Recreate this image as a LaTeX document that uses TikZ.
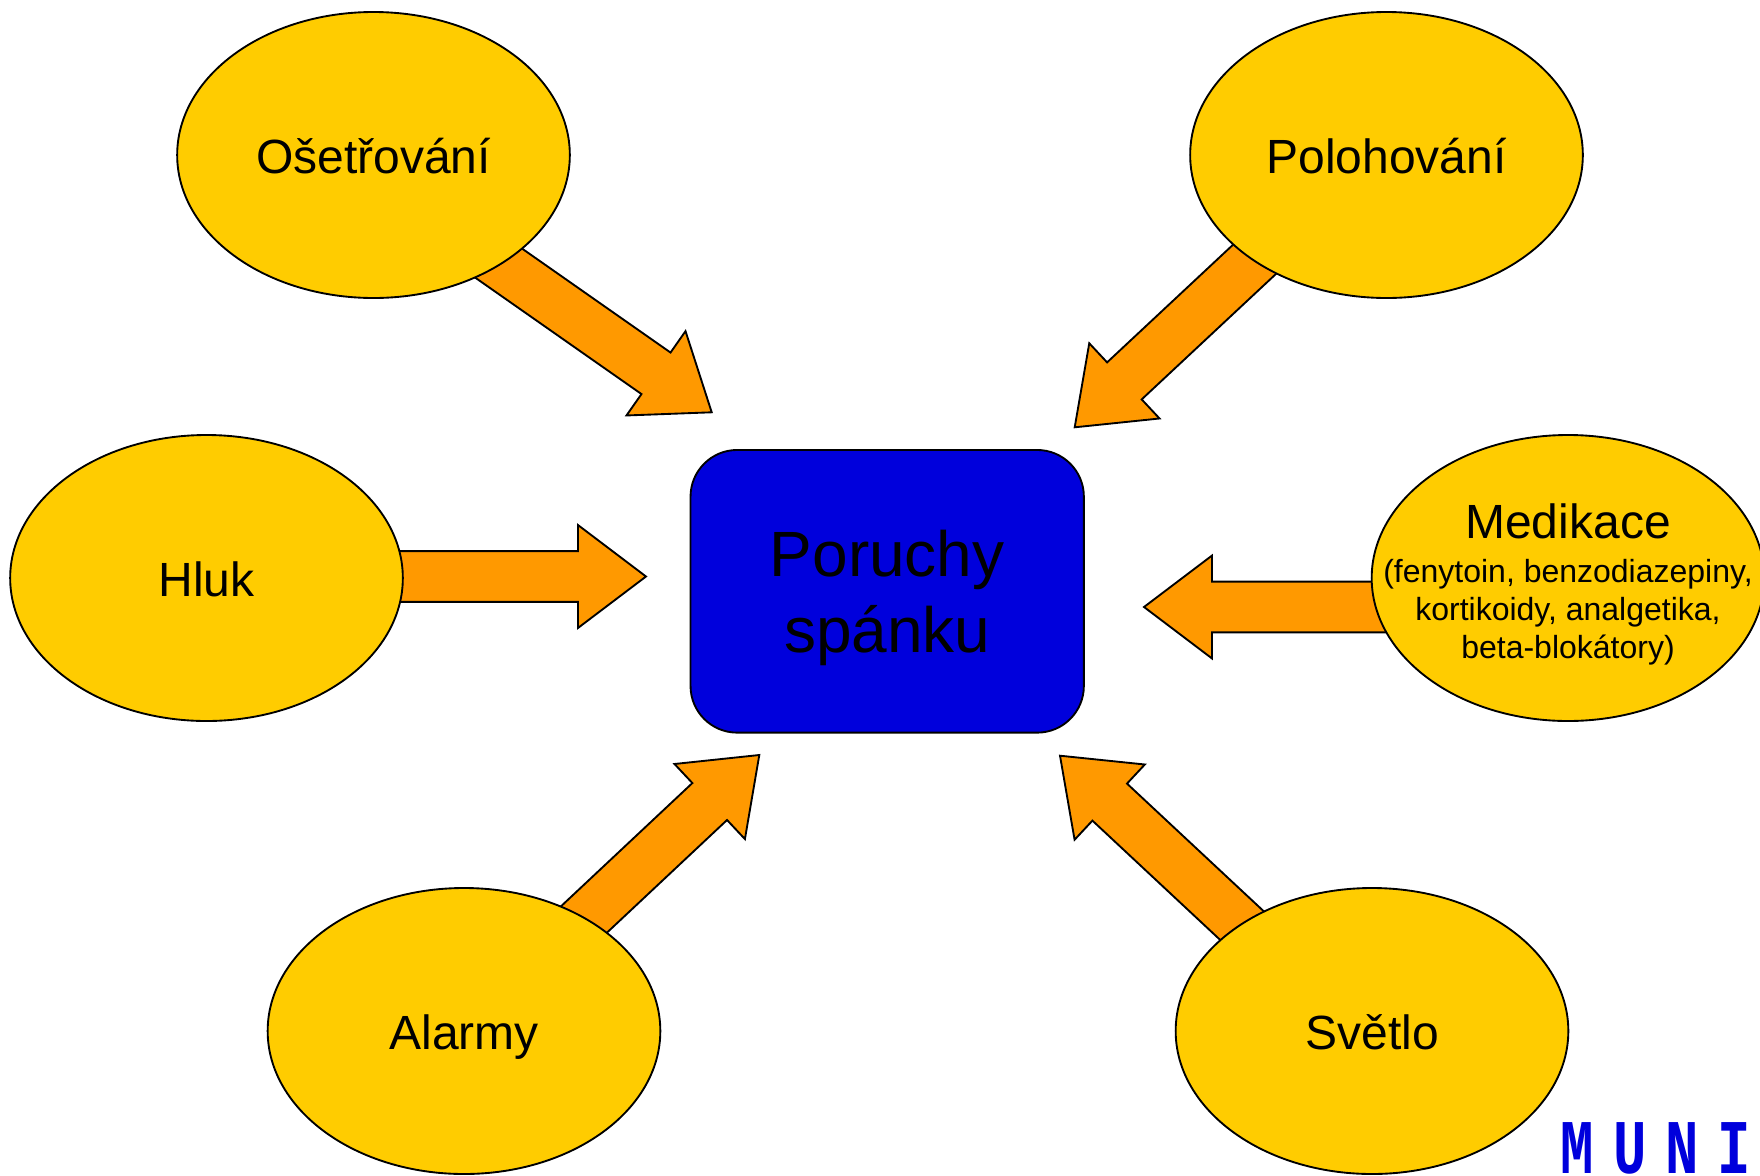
\documentclass[tikz,border=0pt]{standalone}
\usepackage{fontspec}
\setmainfont{Liberation Sans}
\newfontfamily\munifont[LetterSpace=24.5,FakeStretch=0.72]{Liberation Mono}
\usetikzlibrary{backgrounds,calc,shapes.geometric}
\definecolor{oval}{HTML}{FFCC00}
\definecolor{arrowfill}{HTML}{FF9900}
\definecolor{muniblue}{HTML}{0000DC}
\begin{document}
\begin{tikzpicture}[x=0.75pt,y=-0.75pt,line width=1.4pt,
	cause/.style={draw,fill=oval,ellipse,inner sep=0pt,minimum width=294.5pt,minimum height=214.5pt,text height=27pt,text depth=0pt,font=\fontsize{36}{43}\selectfont},
	problem/.style={draw,fill=muniblue,rectangle,rounded corners=35pt,inner sep=0pt,minimum width=295pt,minimum height=212pt,align=center,text depth=0pt,font=\fontsize{48}{57}\selectfont},
	fatarrow/.style={draw,line width=1.4pt,fill=arrowfill,to path={
		($(\tikztostart)!19pt!90:(\tikztotarget)$)
		-- ($($(\tikztotarget)!51pt!(\tikztostart)$)!19pt!90:(\tikztotarget)$)
		-- ($($(\tikztotarget)!51pt!(\tikztostart)$)!38.6pt!90:(\tikztotarget)$)
		-- (\tikztotarget)
		-- ($($(\tikztotarget)!51pt!(\tikztostart)$)!38.6pt!-90:(\tikztotarget)$)
		-- ($($(\tikztotarget)!51pt!(\tikztostart)$)!19pt!-90:(\tikztotarget)$)
		-- ($(\tikztostart)!19pt!-90:(\tikztotarget)$) -- cycle}}]
	\useasboundingbox (0,0) rectangle (1760,1175);

	\node[cause] at (373.5,155) (osetrovani) {Ošetřování};
	\node[cause] at (1386.5,155) (polohovani) {Polohování};
	\node[cause] at (206.5,578) (hluk) {Hluk};
	\node[cause] at (1568,578) (medikace) {};
	\node[cause] at (464,1031) (alarmy) {Alarmy};
	\node[cause] at (1372,1031) (svetlo) {Světlo};
	\node[problem] at (887.2,591.3) (poruchy) {Poruchy\\spánku};
	\node[align=center,inner sep=0pt,font=\fontsize{24}{28.7}\selectfont] at (1568,584.5) (medikacetext) {{\fontsize{36}{43}\selectfont Medikace}\\[4.2pt]
		(fenytoin, benzodiazepiny,\\
		kortikoidy, analgetika,\\
		beta-blokátory)};
	\node[anchor=base west,text=muniblue,inner sep=0pt,font=\fontsize{58}{58}\munifont\bfseries] at (1560,1173) (muni) {MUNI\kern-14pt};

	\coordinate (osetrovanitail) at ($(osetrovani)+(0,20.5)$);
	\coordinate (osetrovanitip) at (711.7,412.3);
	\coordinate (polohovanitail) at ($(polohovani)+(0,-19)$);
	\coordinate (polohovanitip) at (1074.7,427.3);
	\coordinate (hluktail) at ($(hluk)+(0,-1.5)$);
	\coordinate (hluktip) at (646,576.5);
	\coordinate (medikacetail) at ($(medikace)+(0,29)$);
	\coordinate (medikacetip) at (1144,607);
	\coordinate (alarmytail) at ($(alarmy)+(0,1)$);
	\coordinate (alarmytip) at (759.3,755);
	\coordinate (svetlotail) at ($(svetlo)+(0,16)$);
	\coordinate (svetlotip) at (1060,755.7);

	\begin{scope}[on background layer]
	\draw[fatarrow]	(osetrovanitail) to (osetrovanitip);
	\draw[fatarrow]	(polohovanitail) to (polohovanitip);
	\draw[fatarrow]	(hluktail) to (hluktip);
	\draw[fatarrow]	(medikacetail) to (medikacetip);
	\draw[fatarrow]	(alarmytail) to (alarmytip);
	\draw[fatarrow]	(svetlotail) to (svetlotip);
	\end{scope}
\end{tikzpicture}
\end{document}
